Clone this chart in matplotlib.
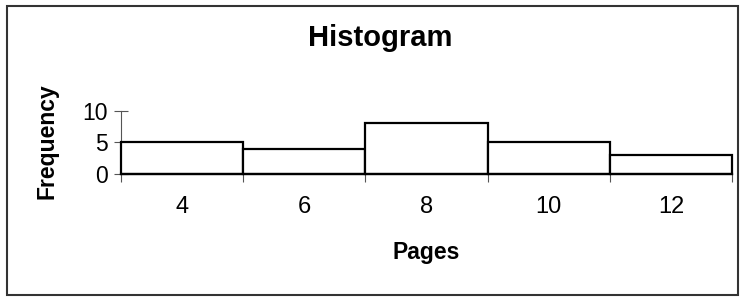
import numpy as np
import matplotlib.pyplot as plt
from matplotlib.patches import Rectangle

# Histogram data
pages = [4, 6, 8, 10, 12]
frequency = [5, 4, 8, 5, 3]
bin_width = 2
y_ticks = [0, 5, 10]

plt.rcParams['font.family'] = ['Liberation Sans', 'DejaVu Sans']

fig = plt.figure(figsize=(7.41, 2.97), dpi=100)
ax = fig.add_axes([121 / 741, 123 / 297, 611 / 741, 63.5 / 297])

edges = np.array(pages) - bin_width / 2
ax.bar(edges, frequency, width=bin_width, align='edge', color='white',
       edgecolor='black', linewidth=1.6, clip_on=False, zorder=3)

ax.set_xlim(pages[0] - bin_width / 2, pages[-1] + bin_width / 2)
ax.set_ylim(0, 10)

# bin edges get the tick marks, bin centres get the labels
ax.set_xticks(list(edges) + [pages[-1] + bin_width / 2])
ax.set_xticklabels([])
ax.set_xticks(pages, minor=True)
ax.set_xticklabels([str(p) for p in pages], minor=True, fontsize=17)
ax.tick_params(axis='x', which='major', direction='out', length=6,
               width=0.8, color='#555555')
ax.tick_params(axis='x', which='minor', length=0, pad=16)

ax.set_yticks(y_ticks)
ax.set_yticklabels([str(v) for v in y_ticks], fontsize=16.5)
ax.tick_params(axis='y', direction='inout', length=10.5, width=0.8,
               color='#555555', pad=4)

for side in ['top', 'right']:
    ax.spines[side].set_visible(False)
ax.spines['left'].set_linewidth(0.8)
ax.spines['left'].set_color('#555555')
ax.spines['bottom'].set_linewidth(1.6)
ax.spines['bottom'].set_color('black')
ax.spines['bottom'].set_zorder(4)

fig.text(380 / 741, 1 - 46 / 297, 'Histogram', fontsize=21, fontweight='bold',
         ha='center', va='baseline')
fig.text(426 / 741, 1 - 259 / 297, 'Pages', fontsize=16.5, fontweight='bold',
         ha='center', va='baseline')
fig.text(47.5 / 741, 1 - 141 / 297, 'Frequency', fontsize=16.5, fontweight='bold',
         ha='center', va='center', rotation=90)

# outer chart border
fig.patches.append(Rectangle((7 / 741, 2.5 / 297), 731 / 741, 288.5 / 297,
                             transform=fig.transFigure, fill=False,
                             edgecolor='#333333', linewidth=1.5))

plt.savefig('out.png', dpi=100)
